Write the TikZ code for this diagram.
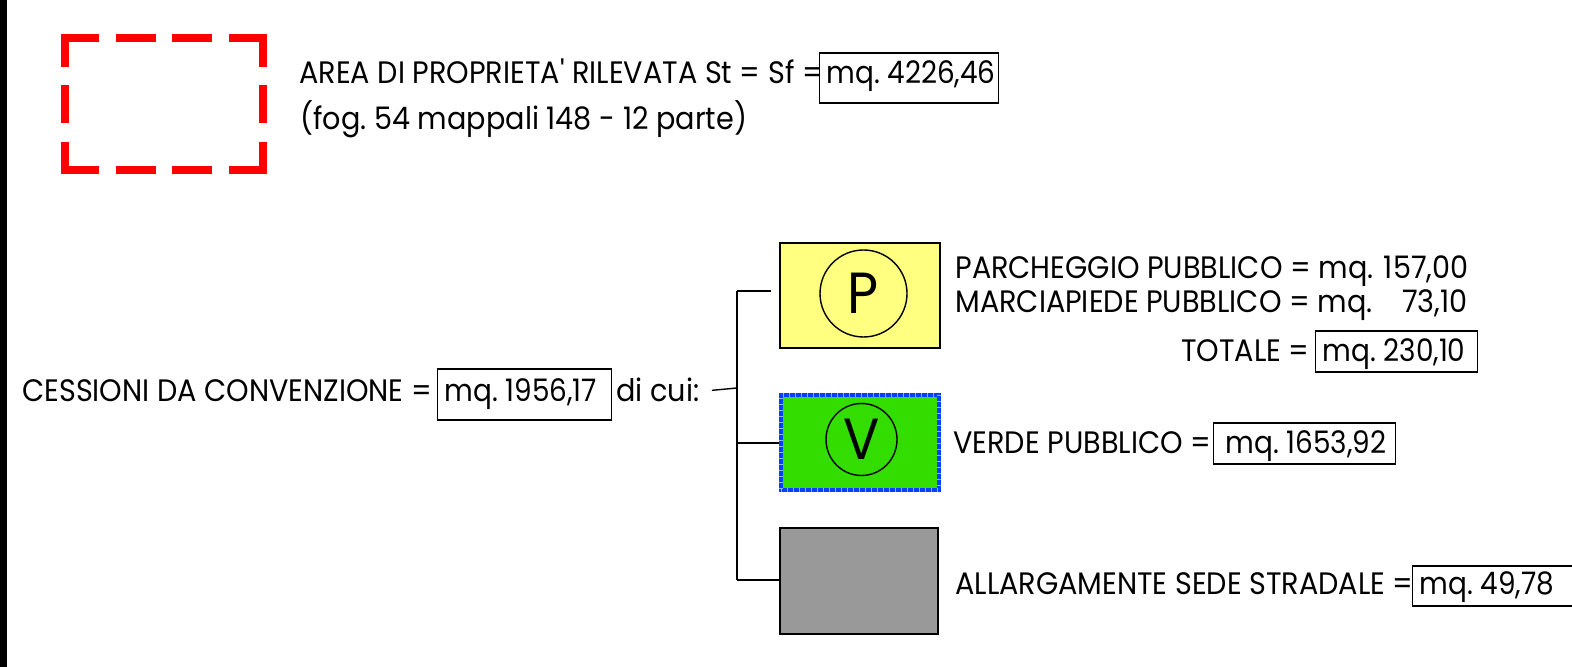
\documentclass[tikz,border=0pt]{standalone}
\usepackage{fontspec}
\setmainfont{Poppins}[FakeStretch=0.925]
\newfontfamily\plainfont{Poppins}[FakeStretch=0.925]
\newfontfamily\valfont{Poppins}[FakeStretch=0.9]
\usetikzlibrary{calc,shapes.geometric}
\definecolor{pyellow}{RGB}{255,255,128}
\definecolor{vgreen}{RGB}{51,221,0}
\definecolor{vblue}{RGB}{0,64,255}
\definecolor{vtick}{RGB}{140,175,255}
\definecolor{sgrey}{RGB}{153,153,153}
\definecolor{dred}{RGB}{255,0,0}
\frenchspacing
\newcommand{\valtext}[2]{\makebox[#1][l]{#2}}
\begin{document}
\begin{tikzpicture}[x=0.5pt,y=-0.5pt,
  txt/.style={anchor=base west,inner sep=0pt,font=\fontsize{15.5}{18}\selectfont},
  txte/.style={anchor=base east,inner sep=0pt,font=\fontsize{15.5}{18}\selectfont},
  valbox/.style={draw=black,line width=0.6pt,anchor=base west,inner ysep=0pt,inner xsep=3.5pt,font=\valfont\fontsize{15.5}{18}\selectfont},
  redseg/.style={draw=dred,line width=4pt,line join=miter},
  area/.style={draw=black,line width=1.1pt,inner sep=0pt},
  sym/.style={draw=black,line width=0.7pt,inner sep=0pt,font=\fontsize{29}{32}\selectfont},
  conn/.style={draw=black,line width=0.7pt}]
\useasboundingbox (0,0) rectangle (1572,667);
\fill[black] (0,0) rectangle (7,667);
% legend: red dashed outline
\draw[redseg] (65,67) -- (65,38) -- (99,38);
\draw[redseg] (229,38) -- (263,38) -- (263,67);
\draw[redseg] (65,142) -- (65,170) -- (99,170);
\draw[redseg] (229,170) -- (263,170) -- (263,142);
\draw[redseg] (116,38) -- (156,38) (172,38) -- (212,38);
\draw[redseg] (116,170) -- (156,170) (172,170) -- (212,170);
\draw[redseg] (65,85) -- (65,123) (263,85) -- (263,123);
% header texts
\node[txt] (tArea) at (299,84) {AREA DI PROPRIETA{\plainfont'} RILEVATA St = Sf =};
\node[valbox,text height=15.5pt,text depth=9.5pt] (bArea) at (819,84) {\valtext{82.5pt}{mq. 4226,46}};
\node[txt] (tFog) at (300,130) {(fog. 54 mappali 148 - 12 parte)};
% cessioni
\node[txt] (tCess) at (22,402) {CESSIONI DA CONVENZIONE =};
\node[valbox,text height=16.5pt,text depth=9pt] (bCess) at (437,402) {\valtext{80pt}{mq. 1956,17}};
\node[txt] (tDicui) at (616,402) {di cui:};
% boxes
\node[area,fill=pyellow,minimum width=80pt,minimum height=52.5pt] (boxP) at (860,295.5) {};
\node[sym,circle,minimum size=43.5pt] (circP) at (863.5,293.5) {P};
\node[area,fill=vgreen,draw=vblue,line width=2pt,minimum width=79pt,minimum height=47.5pt,
  postaction={draw=vtick,line width=2pt,dash pattern=on 0.5pt off 2.5pt}] (boxV) at (860,442.5) {};
\node[sym,ellipse,minimum width=35.5pt,minimum height=36pt] (circV) at (861.5,439.5) {V};
\node[area,fill=sgrey,minimum width=79pt,minimum height=53pt] (boxG) at (859,581) {};
% connectors
\coordinate (jTop) at (737,291);
\coordinate (jMid) at (737,388);
\coordinate (jV) at (737,443);
\coordinate (jG) at (737,580);
\draw[conn] (jTop) -- (jG);
\draw[conn] ($(tDicui.east)+(12,0)$ |- jMid) -- (jMid);
\draw[conn] (jTop) -- ($(boxP.west |- jTop)+(-8,0)$);
\draw[conn] (jV) -- (boxV.west |- jV);
\draw[conn] (jG) -- (boxG.west |- jG);
% right texts
\node[txt] (tParch) at (955,279) {\hbox to 256.5pt{PARCHEGGIO PUBBLICO = mq.\hfill 157,00}};
\node[txt] (tMarc) at (955,313) {\hbox to 256pt{MARCIAPIEDE PUBBLICO = mq.\hfill 73,10}};
\node[txte] (tTot) at (1310,362) {TOTALE =};
\node[valbox,text height=15.5pt,text depth=5pt] (bTot) at (1315,362) {\valtext{74pt}{mq. 230,10}};
\node[txt] (tVerde) at (953,453) {VERDE PUBBLICO =};
\node[valbox,inner xsep=6pt,text height=15pt,text depth=5.5pt] (bVerde) at (1213,453) {\valtext{79pt}{mq. 1653,92}};
\node[txt] (tAllarg) at (955,594) {ALLARGAMENTE SEDE STRADALE =};
\node[valbox,text height=14pt,text depth=6pt] (bAllarg) at (1412,594) {\valtext{90pt}{mq. 49,78}};
\end{tikzpicture}
\end{document}
